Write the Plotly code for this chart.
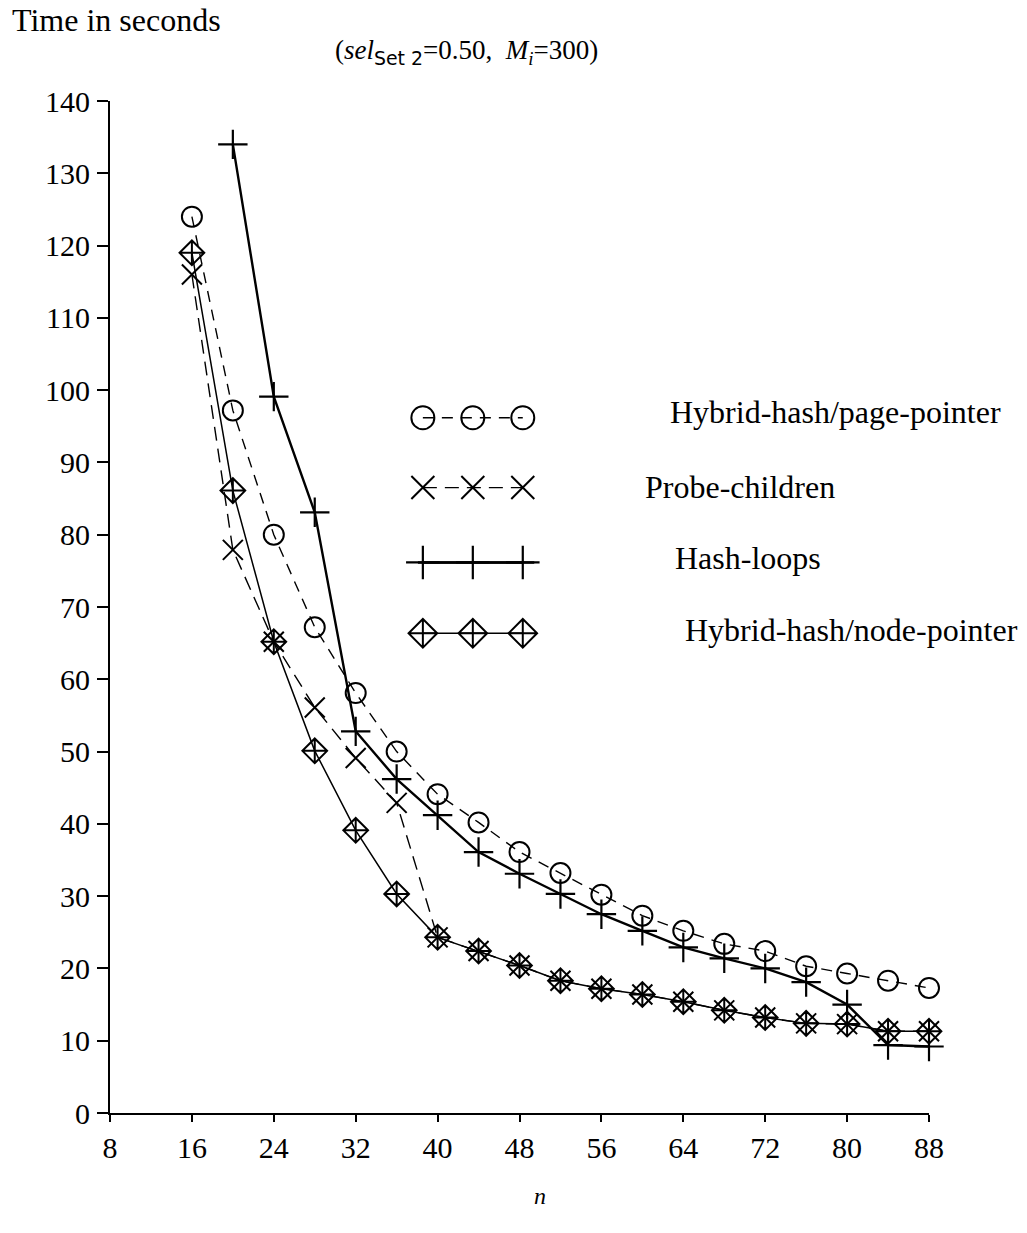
import plotly.graph_objects as go

# ---- data -------------------------------------------------------------
n_values = [16, 20, 24, 28, 32, 36, 40, 44, 48, 52, 56, 60, 64, 68, 72, 76, 80, 84, 88]
n_hash = n_values[1:]

page_pointer = [124.0, 97.2, 80.0, 67.2, 58.1, 50.0, 44.1, 40.2, 36.1, 33.2,
                30.2, 27.3, 25.2, 23.4, 22.4, 20.3, 19.3, 18.3, 17.3]
probe_children = [116.0, 77.9, 65.2, 56.1, 49.1, 42.9, 24.3, 22.4, 20.4, 18.3,
                  17.2, 16.4, 15.4, 14.2, 13.2, 12.4, 12.3, 11.3, 11.3]
hash_loops = [134.0, 99.1, 83.1, 52.8, 46.2, 41.2, 36.1, 33.1, 30.3,
              27.5, 25.2, 22.9, 21.4, 20.0, 18.1, 15.0, 9.4, 9.2]
node_pointer = [119.0, 86.1, 65.2, 50.1, 39.1, 30.3, 24.3, 22.4, 20.4, 18.3,
                17.2, 16.4, 15.4, 14.2, 13.2, 12.4, 12.3, 11.3, 11.3]

series_names = ["Hybrid-hash/page-pointer", "Probe-children", "Hash-loops",
                "Hybrid-hash/node-pointer"]
x_ticks = [8, 16, 24, 32, 40, 48, 56, 64, 72, 80, 88]
y_ticks = [0, 10, 20, 30, 40, 50, 60, 70, 80, 90, 100, 110, 120, 130, 140]

# ---- styles -----------------------------------------------------------
SERIF = "Liberation Serif, Times New Roman, serif"
styles = [
    dict(symbol="circle-open", size=20, dash="11px,8px", lw=1.4, mlw=2.0),
    dict(symbol="x-thin-open", size=20, dash="14px,8px", lw=1.4, mlw=2.0),
    dict(symbol="cross-thin-open", size=21, dash="solid", lw=2.4, mlw=2.2),
    dict(symbol="diamond-cross-open", size=19, dash="solid", lw=1.5, mlw=2.0),
]
series_x = [n_values, n_values, n_hash, n_values]
series_y = [page_pointer, probe_children, hash_loops, node_pointer]

fig = go.Figure()
for name, xs, ys, st in zip(series_names, series_x, series_y, styles):
    fig.add_trace(go.Scatter(
        x=xs, y=ys, name=name, mode="lines+markers", showlegend=False,
        line=dict(color="black", width=st["lw"], dash=st["dash"]),
        marker=dict(symbol=st["symbol"], size=st["size"], color="black",
                    line=dict(color="black", width=st["mlw"])),
        cliponaxis=False,
    ))

# ---- hand-drawn style legend (on an invisible overlay axis 0..1) -------
leg_rows_y = [0.687, 0.618, 0.544, 0.474]
leg_marker_x = [0.382, 0.443, 0.504]
leg_line_ext = [0.376, 0.518]
leg_text_x = [0.681, 0.651, 0.687, 0.700]
leg_text_y = [0.693, 0.619, 0.548, 0.477]
for i, st in enumerate(styles):
    if i == 2:
        fig.add_trace(go.Scatter(
            x=leg_line_ext, y=[leg_rows_y[i]] * 2, mode="lines", showlegend=False,
            xaxis="x2", yaxis="y2", hoverinfo="skip",
            line=dict(color="black", width=st["lw"]), cliponaxis=False,
        ))
    fig.add_trace(go.Scatter(
        x=leg_marker_x, y=[leg_rows_y[i]] * 3, mode="lines+markers", showlegend=False,
        xaxis="x2", yaxis="y2", hoverinfo="skip",
        line=dict(color="black", width=st["lw"], dash=st["dash"]),
        marker=dict(symbol=st["symbol"], size=st["size"] + 3, color="black",
                    line=dict(color="black", width=st["mlw"])),
        cliponaxis=False,
    ))
    fig.add_annotation(x=leg_text_x[i], y=leg_text_y[i], xref="paper", yref="paper",
                       text=series_names[i], showarrow=False, xanchor="left",
                       yanchor="middle", font=dict(family=SERIF, size=32, color="black"))

# ---- texts ------------------------------------------------------------
fig.add_annotation(x=-0.122, y=1.080, xref="paper", yref="paper",
                   text="Time in seconds", showarrow=False, xanchor="left",
                   yanchor="middle", font=dict(family=SERIF, size=32, color="black"))
fig.add_annotation(x=0.272, y=1.048, xref="paper", yref="paper",
                   text="(<i>sel</i><sub><span style='font-family:DejaVu Sans'>Set 2</span></sub>=0.50,  <i>M<sub>i</sub></i>=300)",
                   showarrow=False, xanchor="left", yanchor="middle",
                   font=dict(family=SERIF, size=27, color="black"))
fig.add_annotation(x=0.525, y=-0.082, xref="paper", yref="paper",
                   text="<i>n</i>", showarrow=False, xanchor="center",
                   yanchor="middle", font=dict(family=SERIF, size=24, color="black"))

axis_common = dict(showgrid=False, zeroline=False, showline=True, linecolor="black",
                   linewidth=2, ticks="outside", tickcolor="black", tickwidth=2,
                   tickfont=dict(family=SERIF, size=30, color="black"))
fig.update_layout(
    width=1027, height=1233,
    margin=dict(l=110, r=98, t=101, b=120),
    paper_bgcolor="white", plot_bgcolor="white",
    xaxis=dict(range=[8, 88], tickvals=x_ticks, ticktext=[str(v) for v in x_ticks],
               ticklen=7, ticklabelstandoff=0, **axis_common),
    yaxis=dict(range=[0, 140], tickvals=y_ticks, ticktext=[str(v) for v in y_ticks],
               ticklen=11, ticklabelstandoff=1, **axis_common),
    xaxis2=dict(range=[0, 1], overlaying="x", visible=False),
    yaxis2=dict(range=[0, 1], overlaying="y", visible=False),
    showlegend=False,
)

fig.write_html("out.html")
